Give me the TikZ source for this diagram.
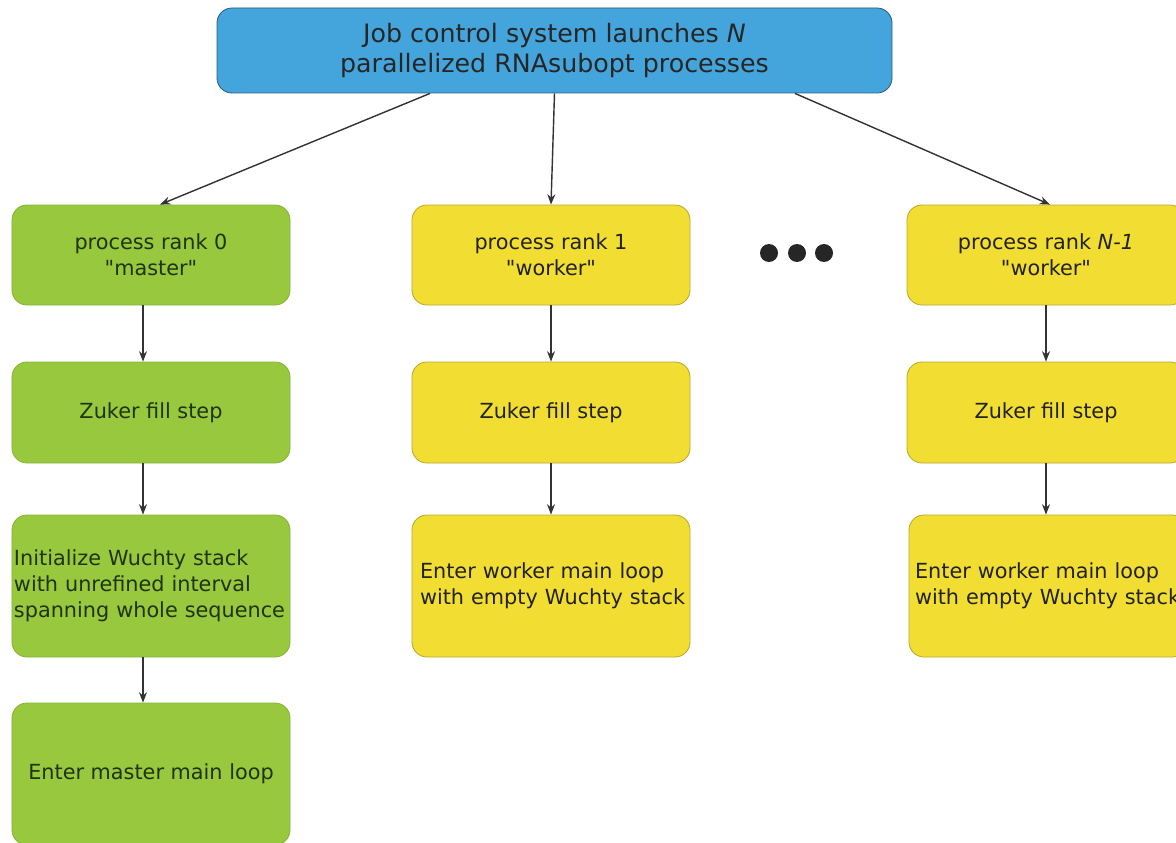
\documentclass[tikz,border=0pt]{standalone}
\usepackage{fontspec}
\setmainfont{DejaVu Sans}
\usepackage{xcolor}
\usetikzlibrary{arrows.meta}
\definecolor{jobblue}{HTML}{44A5DC}
\definecolor{jobline}{HTML}{2C5C7C}
\definecolor{mgreen}{HTML}{97C83D}
\definecolor{mgreenline}{HTML}{86B535}
\definecolor{mgreentext}{HTML}{1E3412}
\definecolor{wyellow}{HTML}{F2DE33}
\definecolor{wyellowline}{HTML}{B9A92E}
\definecolor{wtext}{HTML}{222222}
\definecolor{arrowgray}{HTML}{333333}

\begin{document}
\begin{tikzpicture}[
	box/.style={rounded corners=0.375cm, minimum width=6.95cm, align=center, line width=0.6pt, font=\fontsize{14.8}{18.5}\selectfont},
	masterbox/.style={box, fill=mgreen, draw=mgreenline, text=mgreentext},
	workerbox/.style={box, fill=wyellow, draw=wyellowline, text=wtext},
	tallbox/.style={minimum height=3.55cm, text width=6.55cm, align=left, inner xsep=0.2cm},
	flow/.style={draw=arrowgray, line width=1pt, -{Stealth[length=0.26cm, width=0.2cm]}}
]
				\useasboundingbox (0, 0) rectangle (29.4, -21.075);
				\clip (0, 0) rectangle (29.4, -21.075);

				% launcher
				\node[box, fill=jobblue, draw=jobline, text=black!85, minimum width=16.875cm, minimum height=2.125cm, font=\fontsize{18}{22}\selectfont] (jobctl) at (13.8625, -1.2625) {Job control system launches \textit{N}\\parallelized RNAsubopt processes};

				% rank 0
				\node[masterbox, minimum height=2.5cm] (master0) at (3.775, -6.375) {process rank 0\\\textquotedbl master\textquotedbl};
				\node[masterbox, minimum height=2.525cm] (fill0) at (3.775, -10.3125) {Zuker fill step};
				\node[masterbox, tallbox, text width=6.85cm, inner xsep=0.05cm] (init0) at (3.775, -14.65) {Initialize Wuchty stack\\with unrefined interval\\spanning whole sequence};
				\node[masterbox, minimum height=3.55cm] (loop0) at (3.775, -19.35) {Enter master main loop};

				% rank 1
				\node[workerbox, minimum height=2.5cm] (worker1) at (13.775, -6.375) {process rank 1\\\textquotedbl worker\textquotedbl};
				\node[workerbox, minimum height=2.525cm] (fill1) at (13.775, -10.3125) {Zuker fill step};
				\node[workerbox, tallbox] (loop1) at (13.775, -14.65) {Enter worker main loop\\with~empty~Wuchty~stack};

				% rank N-1
				\node[workerbox, minimum height=2.5cm] (workerN) at (26.15, -6.375) {process rank \textit{N-1}\\\textquotedbl worker\textquotedbl};
				\node[workerbox, minimum height=2.525cm] (fillN) at (26.15, -10.3125) {Zuker fill step};
				\node[workerbox, tallbox, inner xsep=0.15cm, text width=6.65cm] (loopN) at (26.2, -14.65) {Enter worker main loop\\with~empty~Wuchty~stack};

				% dots
				\foreach \x in {19.225, 19.925, 20.6}
					\fill[black!85] (\x, -6.325) circle (0.225);

				\draw[flow] ([xshift=-3.1125cm]jobctl.south) -- ([xshift=0.225cm]master0.north);
				\draw[flow] (jobctl.south) -- (worker1.north);
				\draw[flow] ([xshift=6.0125cm]jobctl.south) -- ([xshift=0.1cm]workerN.north);

				\draw[flow] ([xshift=-0.2cm]master0.south) -- ([xshift=-0.2cm]fill0.north);
				\draw[flow] ([xshift=-0.2cm]fill0.south) -- ([xshift=-0.2cm]init0.north);
				\draw[flow] ([xshift=-0.2cm]init0.south) -- ([xshift=-0.2cm]loop0.north);
				\draw[flow] (worker1) -- (fill1);
				\draw[flow] (fill1) -- (loop1);
				\draw[flow] (workerN) -- (fillN);
				\draw[flow] (fillN.south) -- (fillN.south |- loopN.north);
\end{tikzpicture}
\end{document}
